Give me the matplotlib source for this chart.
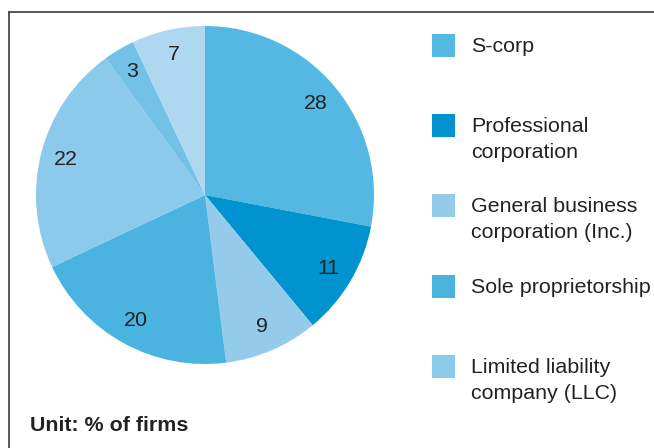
import matplotlib
matplotlib.use("Agg")
import matplotlib.pyplot as plt
from matplotlib.patches import Rectangle
from matplotlib.lines import Line2D

plt.rcParams['font.family'] = ['Liberation Sans', 'DejaVu Sans']

# Data (clockwise from top)
values = [28, 11, 9, 20, 22, 3, 7]
slice_colors = ['#54b8e2', '#0093cf', '#95cbea', '#4ab3e0', '#8bcaea', '#73c1e7', '#aed8ef']
legend_labels = ['S-corp', 'Professional\ncorporation', 'General business\ncorporation (Inc.)',
                 'Sole proprietorship', 'Limited liability\ncompany (LLC)']
legend_colors = ['#54b8e2', '#0093cf', '#95cbea', '#4ab3e0', '#8bcaea']
unit_text = 'Unit: % of firms'

W, H = 654, 448
fig = plt.figure(figsize=(W / 100, H / 100), dpi=100)
fig.patch.set_facecolor('white')

def fx(px):
    return px / W

def fy(py):
    return 1 - py / H

FS = 15.4

# Frame lines (top and left)
fig.add_artist(Line2D([fx(9), fx(660)], [fy(12), fy(12)], color='#4a4a4a', lw=1.3))
fig.add_artist(Line2D([fx(9), fx(9)], [fy(12), fy(460)], color='#4a4a4a', lw=1.3))

# Pie
cx, cy, r = 205, 195, 169
ax = fig.add_axes([fx(cx - r), fy(cy + r), 2 * r / W, 2 * r / H])
wedges, texts, autotexts = ax.pie(values, colors=slice_colors, startangle=90, counterclock=False,
                                  radius=1.0, autopct=lambda p: f"{p:.0f}", pctdistance=0.85,
                                  wedgeprops=dict(linewidth=0),
                                  textprops=dict(fontsize=FS, color='#222222'))
ax.set_xlim(-1, 1)
ax.set_ylim(-1, 1)
ax.set_aspect('auto')
ax.axis('off')

# Legend
centers = [45.5, 125.5, 205.5, 286.5, 366.5]
for lab, col, yc in zip(legend_labels, legend_colors, centers):
    fig.add_artist(Rectangle((fx(432), fy(yc + 11.5)), 23 / W, 23 / H, transform=fig.transFigure,
                             facecolor=col, edgecolor='none'))
    for i, line in enumerate(lab.split('\n')):
        fig.text(fx(471), fy(yc + 1 + i * 26), line, fontsize=FS, color='#222222',
                 ha='left', va='center')

fig.text(fx(30), fy(425), unit_text, fontsize=FS, fontweight='bold', color='#222222',
         ha='left', va='center')

fig.savefig('out.png', dpi=100)
